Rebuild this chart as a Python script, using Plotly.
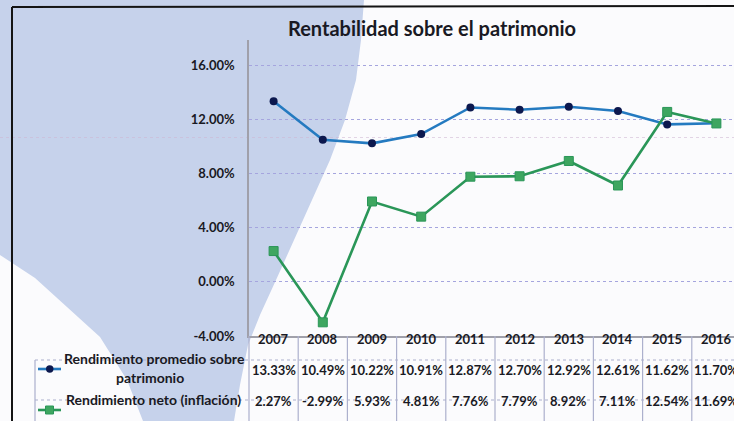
import plotly.graph_objects as go

# ---- data ----
years = ["2007", "2008", "2009", "2010", "2011", "2012", "2013", "2014", "2015", "2016"]
rend_promedio = [13.33, 10.49, 10.22, 10.91, 12.87, 12.70, 12.92, 12.61, 11.62, 11.70]
rend_neto = [2.27, -2.99, 5.93, 4.81, 7.76, 7.79, 8.92, 7.11, 12.54, 11.69]
y_ticks = [-4, 0, 4, 8, 12, 16]

name_promedio = "Rendimiento promedio sobre patrimonio"
name_neto = "Rendimiento neto (inflación)"

# ---- geometry helpers (figure pixels -> paper coordinates) ----
W, H = 734, 421
L, R, T, B = 249, 734, 40, 336
X_RANGE = [-0.5, 9.358]


def px(x):
    return (x - L) / (R - L)


def py(y):
    return (B - y) / (B - T)


def cat_paper(k):
    return (k - X_RANGE[0]) / (X_RANGE[1] - X_RANGE[0])


BLUE_LINE = "rgb(36,122,192)"
NAVY = "rgb(12,24,78)"
GREEN_LINE = "rgb(42,150,88)"
GREEN_MK = "rgb(62,166,96)"
TXT = "rgb(25,25,35)"
FONT = "Lato"

fig = go.Figure()
fig.add_trace(go.Scatter(
    x=list(range(len(years))), y=rend_promedio, name=name_promedio,
    mode="lines+markers",
    line=dict(color=BLUE_LINE, width=2.6),
    marker=dict(symbol="circle", size=8, color=NAVY),
    showlegend=False,
))
fig.add_trace(go.Scatter(
    x=list(range(len(years))), y=rend_neto, name=name_neto,
    mode="lines+markers",
    line=dict(color=GREEN_LINE, width=2.6),
    marker=dict(symbol="square", size=9, color=GREEN_MK,
                line=dict(color=GREEN_LINE, width=1)),
    showlegend=False,
))

shapes = []

# soft blue backdrop on the left with a white sweep in the lower corner
blue_pts = [(0, 0), (364, 0), (361, 40), (356, 80), (345, 120), (330, 160),
            (312, 200), (294, 240), (276, 280), (260, 315), (248, 345),
            (240, 385), (234, 421), (143, 421), (127, 380), (100, 337),
            (67, 307), (35, 278), (0, 255)]
path = "M " + " L ".join(f"{px(a):.4f},{py(b):.4f}" for a, b in blue_pts) + " Z"
shapes.append(dict(type="path", path=path, xref="paper", yref="paper",
                   fillcolor="rgb(198,210,235)", line=dict(width=0), layer="below"))

# faint scan streak
shapes.append(dict(type="line", xref="paper", yref="paper",
                   x0=px(0), x1=px(W), y0=py(137.5), y1=py(137.5),
                   line=dict(color="rgba(205,180,210,0.55)", width=1, dash="dot"),
                   layer="below"))

# outer chart frame
shapes.append(dict(type="line", xref="paper", yref="paper",
                   x0=px(12), x1=px(W), y0=py(7), y1=py(6),
                   line=dict(color="rgb(20,20,20)", width=2)))
shapes.append(dict(type="line", xref="paper", yref="paper",
                   x0=px(12), x1=px(12), y0=py(7), y1=py(H),
                   line=dict(color="rgb(20,20,20)", width=2)))

# data table grid
GRID_T = "rgb(172,176,205)"
for yy in (360, 400):
    shapes.append(dict(type="line", xref="paper", yref="paper",
                       x0=px(35), x1=px(W), y0=py(yy), y1=py(yy),
                       line=dict(color=GRID_T, width=1.2, dash="dot")))
shapes.append(dict(type="line", xref="paper", yref="paper",
                   x0=px(35), x1=px(35), y0=py(360), y1=py(H),
                   line=dict(color=GRID_T, width=1.2)))
for k in range(0, len(years)):
    xp = cat_paper(k - 0.5)
    shapes.append(dict(type="line", xref="paper", yref="paper",
                       x0=xp, x1=xp, y0=py(336), y1=py(H),
                       line=dict(color=GRID_T, width=1.2)))

# legend keys in the table
shapes.append(dict(type="line", xref="paper", yref="paper",
                   x0=px(38), x1=px(61), y0=py(369), y1=py(369),
                   line=dict(color=BLUE_LINE, width=2.6)))
shapes.append(dict(type="circle", xref="paper", yref="paper",
                   x0=px(46), x1=px(53.5), y0=py(365.3), y1=py(372.7),
                   fillcolor=NAVY, line=dict(width=0)))
shapes.append(dict(type="line", xref="paper", yref="paper",
                   x0=px(38), x1=px(61), y0=py(410), y1=py(410),
                   line=dict(color=GREEN_LINE, width=2.6)))
shapes.append(dict(type="rect", xref="paper", yref="paper",
                   x0=px(45.5), x1=px(53.5), y0=py(406), y1=py(414),
                   fillcolor=GREEN_MK, line=dict(color=GREEN_LINE, width=1)))

annotations = []
cell_font = dict(family=FONT, size=13, color=TXT, weight="bold")
label_font = dict(family=FONT, size=14, color=TXT, weight="bold")
for i, yr in enumerate(years):
    annotations.append(dict(x=i, xref="x", y=py(349), yref="paper", text=yr,
                            xanchor="center", showarrow=False, font=cell_font))
    annotations.append(dict(x=i, xref="x", y=py(380), yref="paper",
                            text=f"{rend_promedio[i]:.2f}%", xanchor="center",
                            showarrow=False, font=cell_font))
    annotations.append(dict(x=i, xref="x", y=py(411), yref="paper",
                            text=f"{rend_neto[i]:.2f}%", xanchor="center",
                            showarrow=False, font=cell_font))

annotations.append(dict(x=px(154), xref="paper", y=py(369), yref="paper",
                        text="Rendimiento promedio sobre", showarrow=False,
                        xanchor="center", font=label_font))
annotations.append(dict(x=px(150), xref="paper", y=py(388), yref="paper",
                        text="patrimonio", showarrow=False,
                        xanchor="center", font=label_font))
annotations.append(dict(x=px(153), xref="paper", y=py(410), yref="paper",
                        text=name_neto, showarrow=False,
                        xanchor="center", font=label_font))

fig.update_layout(
    width=W, height=H,
    margin=dict(l=L, r=W - R, t=T, b=H - B, pad=0),
    paper_bgcolor="rgb(251,251,253)",
    plot_bgcolor="rgba(0,0,0,0)",
    title=dict(text="Rentabilidad sobre el patrimonio",
               x=px(432), xref="paper", xanchor="center",
               y=1 - 29 / H, yref="container", yanchor="middle",
               font=dict(family=FONT, size=20, color=TXT, weight="bold")),
    xaxis=dict(range=X_RANGE, showticklabels=False, showgrid=False,
               zeroline=False, showline=True, linecolor="rgb(160,160,170)",
               linewidth=1.5, ticks=""),
    yaxis=dict(range=[-4, 17.85], tickvals=y_ticks,
               ticktext=[f"{v:.2f}%" for v in y_ticks],
               showgrid=True, gridcolor="rgb(165,165,222)", griddash="dot",
               gridwidth=1.2, zeroline=False, showline=True,
               linecolor="rgb(160,160,170)", linewidth=1.5, ticks="",
               ticklabelstandoff=10,
               tickfont=dict(family=FONT, size=13, color=TXT, weight="bold")),
    shapes=shapes,
    annotations=annotations,
)

fig.write_html("out.html")
